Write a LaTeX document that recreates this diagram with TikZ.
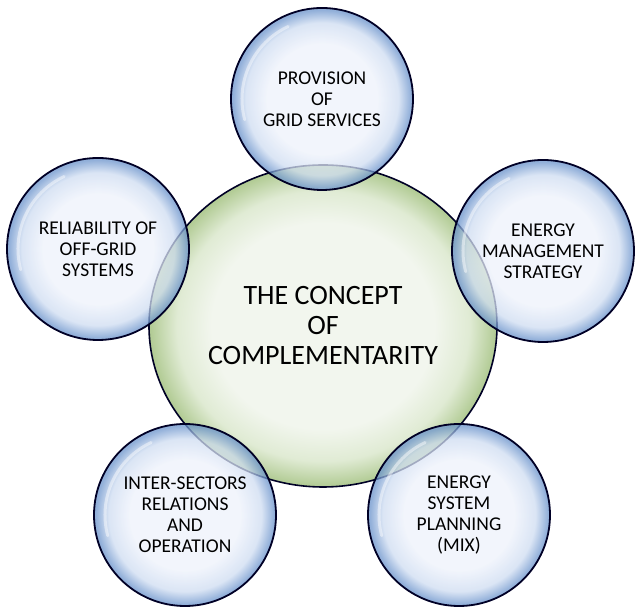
\documentclass[tikz,border=0pt]{standalone}
\usepackage{fontspec}
\setmainfont{Carlito}
\usepackage{tikz}
\usetikzlibrary{shapes,positioning}
\definecolor{bubcore}{RGB}{238,242,251}
\definecolor{bubmid}{RGB}{206,220,241}
\definecolor{bubedge}{RGB}{108,148,204}
\definecolor{grncore}{RGB}{242,246,238}
\definecolor{grnmid}{RGB}{224,235,212}
\definecolor{grnedge}{RGB}{176,202,146}
\colorlet{rim}{black!75!blue!60!black}
\pgfdeclareradialshading{bubble}{\pgfpoint{0bp}{0bp}}{color(0bp)=(bubcore); color(15bp)=(bubcore);
  color(21bp)=(bubmid); color(24.5bp)=(bubedge); color(25bp)=(bubedge); color(50bp)=(bubedge)}
\pgfdeclareradialshading{greenball}{\pgfpoint{0bp}{0bp}}{color(0bp)=(grncore); color(16bp)=(grncore);
  color(21bp)=(grnmid); color(25bp)=(grnedge); color(50bp)=(grnedge)}

\begin{document}
\begin{tikzpicture}[x=1pt, y=1pt,
  BUB/.style={circle, minimum size=182pt, inner sep=0pt, draw=rim, line width=1.8pt,
              shading=bubble, fill opacity=0.75, text opacity=1, align=center,
              font=\fontsize{19.5}{21}\selectfont},
  CORE/.style={ellipse, minimum width=348pt, minimum height=322pt, inner sep=0pt,
               draw=rim, line width=1.6pt, shading=greenball, align=center,
               font=\fontsize{28}{30}\selectfont},
  GLOSS/.style={white, opacity=0.45, line width=3pt, line cap=round}
]
\useasboundingbox (0,0) rectangle (635,609);

% centre
\node (core) [CORE] at (323,283) {THE CONCEPT\\OF\\COMPLEMENTARITY};

% satellites
\node (b1) [BUB] at (322,510) {PROVISION\\OF\\GRID SERVICES};
\node (b2) [BUB] at (543,358) {ENERGY\\MANAGEMENT\\STRATEGY};
\node (b3) [BUB] at (459,94)  {ENERGY\\SYSTEM\\PLANNING\\(MIX)};
\node (b4) [BUB] at (185,94)  {INTER-SECTORS\\RELATIONS\\AND\\OPERATION};
\node (b5) [BUB] at (98,360)  {RELIABILITY OF\\OFF-GRID\\SYSTEMS};

% highlights
\foreach \b in {b1,b2,b3,b4,b5}
  \draw[GLOSS] ([shift={(115:80pt)}]\b.center) arc[start angle=115, end angle=195, radius=80pt];
\end{tikzpicture}
\end{document}
